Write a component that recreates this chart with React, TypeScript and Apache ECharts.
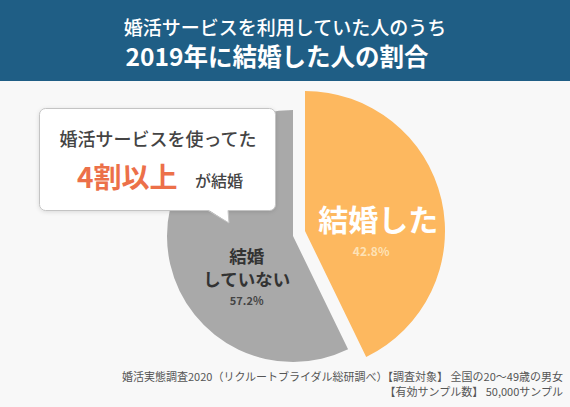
import React, { useEffect, useRef } from "react";
import * as echarts from "echarts";

const categories = ["結婚した", "結婚\nしていない"];
const values = [42.8, 57.2];
const titleLines = ["婚活サービスを利用していた人のうち", "2019年に結婚した人の割合"];
const bubbleLine1 = "婚活サービスを使ってた";
const bubbleHighlight = "4割以上";
const bubbleTail = "が結婚";
const sourceLines = [
  "婚活実態調査2020（リクルートブライダル総研調べ）【調査対象】 全国の20〜49歳の男女",
  "【有効サンプル数】 50,000サンプル",
];

const FONT = '"Noto Sans CJK JP", "Noto Sans", sans-serif';
const ORANGE = "#fdb85f";
const GRAY = "#a9a9a9";
const BLUE = "#1f5e85";

export default function App() {
  const ref = useRef<HTMLDivElement>(null);
  useEffect(() => {
    document.body.style.margin = "0";
    const chart = echarts.init(ref.current!, null, { renderer: "svg" });
    const hidden = { itemStyle: { color: "rgba(0,0,0,0)" }, label: { show: false } };
    chart.setOption({
      animation: false,
      backgroundColor: "#f8f8f8",
      series: [
        {
          type: "pie",
          center: [293, 236],
          radius: 126,
          startAngle: 90,
          silent: true,
          percentPrecision: 1,
          emphasis: { disabled: true },
          labelLine: { show: false },
          labelLayout: { dx: 18, dy: 26 },
          data: [
            { value: values[0], name: categories[0], ...hidden },
            {
              value: values[1],
              name: categories[1],
              itemStyle: { color: GRAY },
              label: {
                show: true,
                position: "inside",
                formatter: (p: any) =>
                  String(p.name)
                    .split("\n")
                    .map((s: string) => `{n|${s}}`)
                    .join("\n") + `\n{p|${p.percent}%}`,
                rich: {
                  n: { fontSize: 17.5, lineHeight: 23, color: "#333", fontWeight: "bold", fontFamily: FONT, align: "center" },
                  p: { fontSize: 11, lineHeight: 19, color: "#444", fontWeight: "bold", fontFamily: FONT, align: "center" },
                },
              },
            },
          ],
        },
        {
          type: "pie",
          center: [305, 231],
          radius: 140,
          startAngle: 90,
          silent: true,
          percentPrecision: 1,
          emphasis: { disabled: true },
          labelLine: { show: false },
          labelLayout: { dx: 2, dy: 18 },
          data: [
            {
              value: values[0],
              name: categories[0],
              itemStyle: { color: ORANGE },
              label: {
                show: true,
                position: "inside",
                formatter: "{n|{b}}\n{p|{d}%}",
                rich: {
                  n: { fontSize: 30, lineHeight: 36, color: "#fff", fontWeight: "bold", fontFamily: FONT, align: "center" },
                  p: { fontSize: 12, lineHeight: 30, color: "#fde2b6", fontWeight: "bold", fontFamily: FONT, align: "center", padding: [0, 14, 0, 0] },
                },
              },
            },
            { value: values[1], name: categories[1], ...hidden },
          ],
        },
      ],
      graphic: [
        { type: "rect", z: 100, shape: { x: 0, y: 0, width: 570, height: 81 }, style: { fill: BLUE } },
        {
          type: "text", z: 101, x: 285, y: 26,
          style: { text: titleLines[0], fill: "#fff", fontSize: 19, fontWeight: 500, fontFamily: FONT, textAlign: "center", textVerticalAlign: "middle" },
        },
        {
          type: "text", z: 101, x: 277, y: 55,
          style: { text: titleLines[1], fill: "#fff", fontSize: 24.5, fontWeight: "bold", fontFamily: FONT, textAlign: "center", textVerticalAlign: "middle" },
        },
        {
          type: "rect", z: 100,
          shape: { x: 39.5, y: 108.5, width: 236, height: 102, r: 6 },
          style: { fill: "#fff", stroke: "#c4c4c4", lineWidth: 1, shadowBlur: 4, shadowColor: "rgba(0,0,0,0.12)", shadowOffsetY: 1 },
        },
        {
          type: "polygon", z: 101,
          shape: { points: [[208, 209.5], [229, 223], [228, 209.5]] },
          style: { fill: "#fff" },
        },
        {
          type: "polyline", z: 101,
          shape: { points: [[208, 210.5], [229, 223], [228, 210.5]] },
          style: { stroke: "#c4c4c4", lineWidth: 1, fill: "none" },
        },
        {
          type: "text", z: 102, x: 158, y: 138,
          style: { text: bubbleLine1, fill: "#444", fontSize: 18, fontWeight: 500, fontFamily: FONT, textAlign: "center", textVerticalAlign: "middle" },
        },
        {
          type: "text", z: 102, x: 77, y: 176,
          style: { text: bubbleHighlight, fill: "#ec7049", fontSize: 28, fontWeight: "bold", fontFamily: FONT, textAlign: "left", textVerticalAlign: "middle" },
        },
        {
          type: "text", z: 102, x: 195, y: 180,
          style: { text: bubbleTail, fill: "#444", fontSize: 16, fontWeight: 500, fontFamily: FONT, textAlign: "left", textVerticalAlign: "middle" },
        },
        {
          type: "text", z: 102, x: 563, y: 376,
          style: { text: sourceLines[0], fill: "#555", fontSize: 11, fontFamily: FONT, textAlign: "right", textVerticalAlign: "middle" },
        },
        {
          type: "text", z: 102, x: 563, y: 391,
          style: { text: sourceLines[1], fill: "#555", fontSize: 11, fontFamily: FONT, textAlign: "right", textVerticalAlign: "middle" },
        },
      ],
    });
    return () => chart.dispose();
  }, []);
  return <div ref={ref} style={{ width: 570, height: 407 }} />;
}
